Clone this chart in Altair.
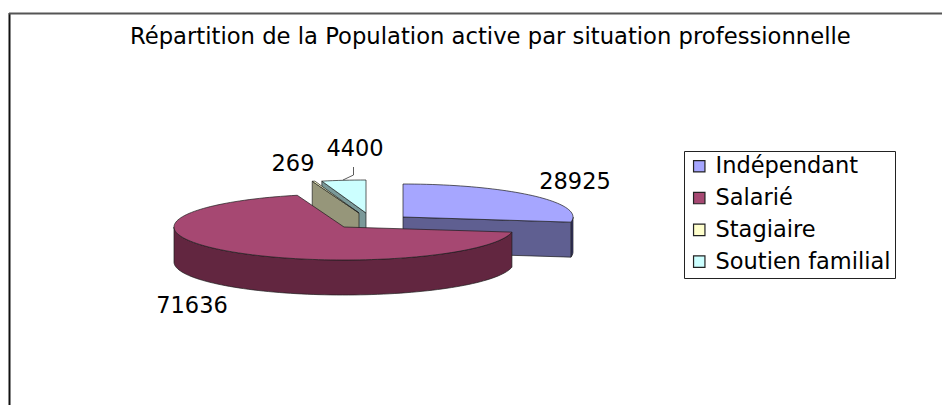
import math
import altair as alt
import pandas as pd

TITLE = "Répartition de la Population active par situation professionnelle"
categories = ["Indépendant", "Salarié", "Stagiaire", "Soutien familial"]
values = [28925, 71636, 269, 4400]
top_colors = ["#A6A6FF", "#A64872", "#FFFFCC", "#CCFFFF"]
side_colors = ["#5F5F91", "#622640", "#96967A", "#7A9999"]
wall_colors = ["#3A3A72", "#622640", "#96967A", "#7A9999"]

# layout: exploded slice centres in picture coordinates
centers = [(403, 217), (344, 227), (359, 213), (366, 213)]
RX, RY, DEPTH = 170, 33, 35
label_pos = [(575, 182), (192, 306), (293, 164), (355, 149)]
FONT = "DejaVu Sans"

X = alt.X("x:Q", scale=alt.Scale(domain=[8, 942]), axis=None)
Y = alt.Y("y:Q", scale=alt.Scale(domain=[405, 8]), axis=None)

total = sum(values)
bounds = [0]
for v in values:
    bounds.append(bounds[-1] + v / total * 360)


def pt(i, a, dz=0):
    cx, cy = centers[i]
    r = math.radians(a)
    return (cx + RX * math.sin(r), cy - RY * math.cos(r) + dz)


def arc(i, a0, a1, dz=0):
    n = max(2, int(abs(a1 - a0) / 2) + 2)
    return [pt(i, a0 + (a1 - a0) * k / (n - 1), dz) for k in range(n)]


def poly(points, fill):
    pts = list(points) + [points[0]]
    df = pd.DataFrame({"x": [p[0] for p in pts], "y": [p[1] for p in pts], "o": range(len(pts))})
    return alt.Chart(df).mark_line(fill=fill, stroke="#1c1c1c", strokeWidth=0.7, clip=False).encode(
        x=X, y=Y, order="o:Q"
    )


def top(i):
    c = centers[i]
    return poly([c] + arc(i, bounds[i], bounds[i + 1]), top_colors[i])


def cut(i, a):
    c = centers[i]
    p = pt(i, a)
    return poly([c, p, (p[0], p[1] + DEPTH), (c[0], c[1] + DEPTH)], side_colors[i])


def wall(i, a0, a1):
    return poly(arc(i, a0, a1) + arc(i, a1, a0, DEPTH), wall_colors[i])


layers = [
    # Indépendant
    wall(0, 90, bounds[1]), cut(0, bounds[1]), top(0),
    # Soutien familial
    cut(3, bounds[3]), top(3),
    # Stagiaire
    cut(2, bounds[2]), top(2),
    # Salarié
    wall(1, bounds[1], 270), top(1),
]

# leader line for 4400
leader = pd.DataFrame({"x": [353.5, 353.5, 343], "y": [167, 175, 180], "o": [0, 1, 2]})
layers.append(alt.Chart(leader).mark_line(color="#333333", strokeWidth=0.8).encode(x=X, y=Y, order="o:Q"))

labels = pd.DataFrame({
    "x": [p[0] for p in label_pos],
    "y": [p[1] for p in label_pos],
    "t": [str(v) for v in values],
})
layers.append(alt.Chart(labels).mark_text(font=FONT, fontSize=22.5, color="black").encode(x=X, y=Y, text="t:N"))

# frame
layers.append(alt.Chart(pd.DataFrame({"a": [0]})).mark_rule(color="#111111", strokeWidth=2).encode(
    x=alt.value(1.5), y=alt.value(5), y2=alt.value(397)))
layers.append(alt.Chart(pd.DataFrame({"a": [0]})).mark_rule(color="#555555", strokeWidth=2).encode(
    x=alt.value(1), x2=alt.value(934), y=alt.value(5.5)))

# legend
leg = pd.DataFrame({"c": categories, "x": [400] * 4, "y": [200] * 4})
layers.append(alt.Chart(leg).mark_square(opacity=0, size=1).encode(
    x=X, y=Y,
    color=alt.Color("c:N", scale=alt.Scale(domain=categories, range=top_colors), legend=alt.Legend(
        orient="none", legendX=676, legendY=143, title=None, strokeColor="#222222", fillColor="white",
        padding=4, labelFont=FONT, labelFontSize=22.5, labelColor="black", symbolType="square",
        symbolSize=130, symbolOpacity=1, symbolStrokeColor="#222222", symbolStrokeWidth=1.2,
        rowPadding=8.8, labelOffset=5, labelLimit=300)),
))

chart = alt.layer(*layers).properties(
    width=934, height=397, padding=0,
    autosize=alt.AutoSizeParams(type="none"),
    title=alt.TitleParams(TITLE, font=FONT, fontSize=22.7, fontWeight="normal", color="black",
                          anchor="start", dx=122, dy=59, offset=0, baseline="alphabetic"),
).configure_view(stroke=None)

chart.save("out.html", embed_options={"renderer": "svg", "actions": False})
